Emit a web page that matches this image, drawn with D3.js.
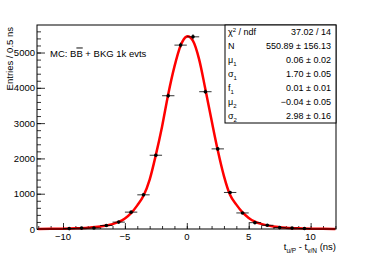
<!DOCTYPE html>
<html>
<head>
<meta charset="utf-8">
<script src="https://cdn.jsdelivr.net/npm/d3@7"></script>
<style>
  body { margin: 0; background: #fff; }
  svg { display: block; font-family: "Liberation Sans", Arial, sans-serif; }
</style>
</head>
<body>
<div id="wrap"></div>
<script>
//  Histogram points (bin centres, entries, vertical errors)
const binX = [-9.5, -8.5, -7.5, -6.5, -5.5, -4.5, -3.5, -2.5, -1.5, -0.5,
  0.5, 1.5, 2.5, 3.5, 4.5, 5.5, 6.5, 7.5, 8.5, 9.5];
const binY = [12, 25, 30, 100, 195, 478, 968, 2090, 3776, 5210,
  5445, 3890, 2270, 1035, 455, 180, 105, 40, 25, 15];
const binErr = [4, 5, 6, 10, 14, 22, 31, 46, 61, 72,
  74, 62, 48, 32, 21, 13, 10, 6, 5, 4];

//  Fit curve
const fitX = [-12, -11, -10, -9, -8, -7, -6.5, -6, -5.5, -5, -4.5, -4, -3.5, -3,
  -2.5, -2, -1.5, -1, -0.5, 0, 0.06, 0.5, 1, 1.5, 2, 2.5, 3, 3.5, 4, 4.5, 5,
  5.5, 6, 6.5, 7, 8, 9, 10, 11, 12];
const fitY = [2, 4, 9, 18, 35, 68, 98, 138, 200, 300, 450, 670, 940, 1400,
  2100, 2900, 3820, 4600, 5200, 5455, 5460, 5330, 4800, 3960, 3080, 2230, 1500,
  960, 690, 470, 315, 210, 145, 102, 72, 37, 19, 10, 5, 2];

//  Stats box rows
const statNames = ["χ2 / ndf", "N", "μ1", "σ1", "f1", "μ2", "σ2"];
const statValues = ["37.02 / 14", "550.89 ± 156.13", "0.06 ± 0.02", "1.70 ± 0.05",
  "0.01 ± 0.01", "−0.04 ± 0.05", "2.98 ± 0.16"];

const xTicks = [-10, -5, 0, 5, 10];
const yTicks = [0, 1000, 2000, 3000, 4000, 5000];

const W = 374, H = 255;
const frame = { left: 37, right: 336, top: 25, bottom: 229 };

const svg = d3.select("#wrap").append("svg")
  .attr("width", W).attr("height", H);

const x = d3.scaleLinear().domain([-12.1, 12.05]).range([frame.left, frame.right]);
const y = d3.scaleLinear().domain([0, 5780]).range([frame.bottom, frame.top]);

//  Axes: ROOT style ticks pointing inside the frame
const xAxis = svg.append("g").attr("transform", "translate(0," + frame.bottom + ")");
xAxis.call(d3.axisTop(x).tickValues(d3.range(-12, 13, 1)).tickSize(3).tickFormat(""));
xAxis.append("g").call(d3.axisTop(x).tickValues(xTicks).tickSize(6).tickFormat(""));
xAxis.selectAll(".domain").remove();

const yAxis = svg.append("g").attr("transform", "translate(" + frame.left + ",0)");
yAxis.call(d3.axisRight(y).tickValues(d3.range(0, 5800, 200)).tickSize(4).tickFormat(""));
yAxis.append("g").call(d3.axisRight(y).tickValues(yTicks).tickSize(8).tickFormat(""));
yAxis.selectAll(".domain").remove();
svg.selectAll(".tick line").attr("stroke", "#000").attr("stroke-width", 0.8);

//  tick labels
svg.append("g").selectAll("text").data(xTicks).enter().append("text")
  .attr("x", (d) => x(d))
  .attr("y", 240)
  .attr("text-anchor", "middle")
  .style("font-size", "9.5px")
  .text((d) => (d < 0 ? "−" + Math.abs(d) : d));

svg.append("g").selectAll("text").data(yTicks).enter().append("text")
  .attr("x", 35)
  .attr("y", (d) => y(d) + 3.5)
  .attr("text-anchor", "end")
  .style("font-size", "9.5px")
  .text((d) => d);

//  axis titles
svg.append("text")
  .attr("transform", "translate(13,27) rotate(-90)")
  .attr("text-anchor", "end")
  .style("font-size", "9.5px")
  .text("Entries / 0.5 ns");

const xt = svg.append("text")
  .attr("x", 336).attr("y", 250)
  .attr("text-anchor", "end")
  .style("font-size", "9.5px");
xt.append("tspan").text("t");
xt.append("tspan").attr("dy", 2.5).style("font-size", "6.5px").text("u/P");
xt.append("tspan").attr("dy", -2.5).text(" - t");
xt.append("tspan").attr("dy", 2.5).style("font-size", "6.5px").text("v/N");
xt.append("tspan").attr("dy", -2.5).text(" (ns)");

//  label inside the plot
const lab = svg.append("text")
  .attr("x", 50).attr("y", 56.5)
  .style("font-size", "9.5px");
lab.append("tspan").text("MC: B");
lab.append("tspan").style("text-decoration", "overline").text("B");
lab.append("tspan").text(" + BKG 1k evts");

//  fit curve
const line = d3.line()
  .x((d, i) => x(fitX[i]))
  .y((d) => y(d))
  .curve(d3.curveMonotoneX);

svg.append("path")
  .datum(fitY)
  .attr("fill", "none")
  .attr("stroke", "#ff0000")
  .attr("stroke-width", 2.5)
  .attr("d", line);

//  data points with error bars
const pts = svg.append("g").selectAll("g").data(binY).enter().append("g");
pts.append("line")
  .attr("x1", (d, i) => x(binX[i] - 0.5))
  .attr("x2", (d, i) => x(binX[i] + 0.5))
  .attr("y1", (d) => y(d))
  .attr("y2", (d) => y(d))
  .attr("stroke", "#000").attr("stroke-width", 0.8);
pts.append("line")
  .attr("x1", (d, i) => x(binX[i]))
  .attr("x2", (d, i) => x(binX[i]))
  .attr("y1", (d, i) => y(d - binErr[i]))
  .attr("y2", (d, i) => y(d + binErr[i]))
  .attr("stroke", "#000").attr("stroke-width", 0.8);
pts.append("circle")
  .attr("cx", (d, i) => x(binX[i]))
  .attr("cy", (d) => y(d))
  .attr("r", 1.8)
  .attr("fill", "#000");

//  frame
svg.append("rect")
  .attr("x", frame.left).attr("y", frame.top)
  .attr("width", frame.right - frame.left)
  .attr("height", frame.bottom - frame.top)
  .attr("fill", "none").attr("stroke", "#000").attr("stroke-width", 1);

//  stats box
const box = { left: 225, right: 336, top: 25, bottom: 123 };
svg.append("rect")
  .attr("x", box.left).attr("y", box.top)
  .attr("width", box.right - box.left).attr("height", box.bottom - box.top)
  .attr("fill", "#fff").attr("stroke", "#000").attr("stroke-width", 1);

const rowH = (box.bottom - box.top) / statNames.length;
const rows = svg.append("g").selectAll("g").data(statNames).enter().append("g")
  .attr("transform", (d, i) => "translate(0," + (box.top + rowH * (i + 0.5) + 3) + ")");

rows.each(function (d) {
  const t = d3.select(this).append("text")
    .attr("x", 228)
    .style("font-size", "9px");
  if (d === "χ2 / ndf") {
    t.append("tspan").text("χ");
    t.append("tspan").attr("dy", -3).style("font-size", "6px").text("2");
    t.append("tspan").attr("dy", 3).text(" / ndf");
  } else if (d.length === 2) {
    t.append("tspan").text(d[0]);
    t.append("tspan").attr("dy", 2.5).style("font-size", "6px").text(d[1]);
  } else {
    t.text(d);
  }
});
rows.append("text")
  .attr("x", 331)
  .attr("text-anchor", "end")
  .style("font-size", "9px")
  .text((d, i) => statValues[i]);
</script>
</body>
</html>
